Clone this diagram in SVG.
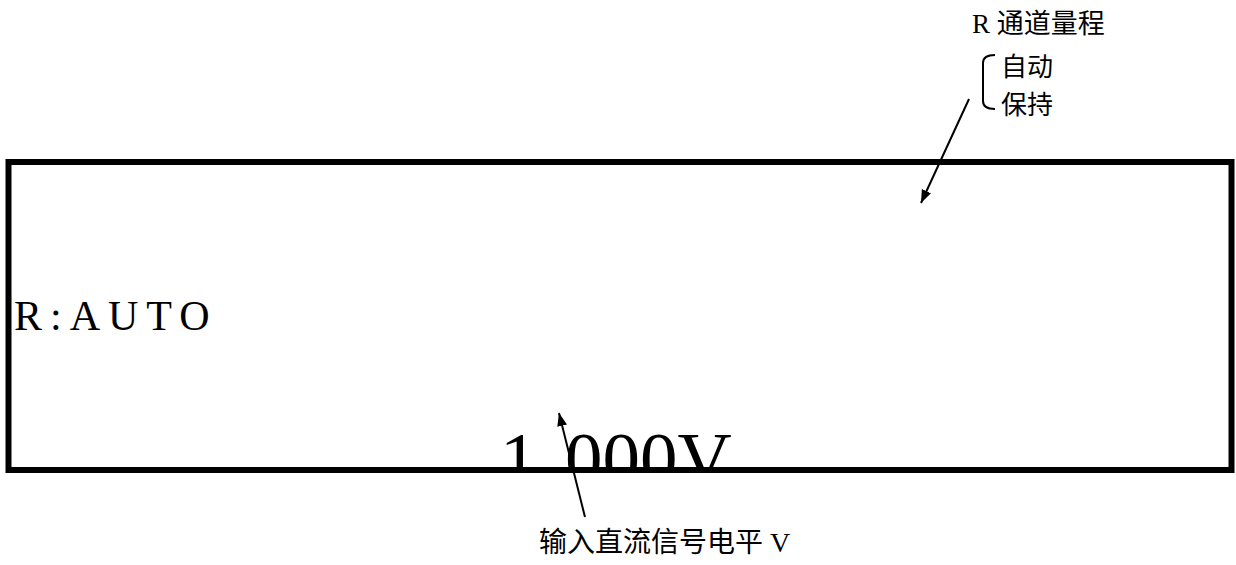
<svg xmlns="http://www.w3.org/2000/svg" width="1236" height="565" viewBox="0 0 1236 565">
<style>
.t{font-family:"Liberation Serif","Noto Sans CJK SC",serif;fill:#000}
.c{stroke:#000;stroke-width:2;fill:none}
</style>
<defs>
<marker id="ah" markerUnits="userSpaceOnUse" markerWidth="14" markerHeight="12" refX="13" refY="5" orient="auto">
<path d="M0,0 L13,5 L0,10 Z" fill="#000"/>
</marker>
<clipPath id="boxclip"><rect x="8" y="162" width="1224" height="307"/></clipPath>
</defs>
<rect width="1236" height="565" fill="#fff"/>
<g id="display">
<rect x="8.5" y="162" width="1223" height="308" fill="none" stroke="#000" stroke-width="6"/>
<text class="t" x="14" y="330" font-size="42" letter-spacing="8">R:AUTO</text>
<text class="t" x="500" y="484" font-size="75" clip-path="url(#boxclip)">1.<tspan x="565">000V</tspan></text>
</g>
<g id="range-label">
<text class="t" x="972" y="33" font-size="27">R 通道量程</text>
<path class="c" d="M995,55 Q983,55 983,63 L983,101 Q983,109 995,109" stroke-width="1.8"/>
<text class="t" x="1001" y="76" font-size="26">自动</text>
<text class="t" x="1001" y="114" font-size="26">保持</text>
</g>
<g id="input-label">
<text class="t" x="539" y="552" font-size="28">输入直流信号电平 V</text>
</g>
<g id="connectors">
<line class="c" x1="969" y1="99" x2="921" y2="203" marker-end="url(#ah)"/>
<line class="c" x1="585" y1="517" x2="559" y2="413" marker-end="url(#ah)"/>
</g>
</svg>
